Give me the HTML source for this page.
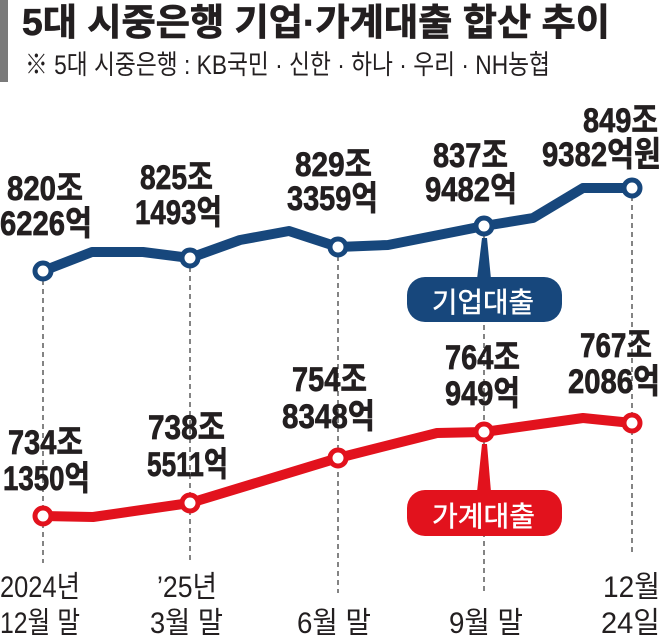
<!DOCTYPE html>
<html>
<head>
<meta charset="utf-8">
<style>
html,body{margin:0;padding:0;background:#fff;}
svg{display:block;}
.t{font-family:"Liberation Sans","Noto Sans CJK KR",sans-serif;}
.b{font-weight:bold;fill:#231f20;stroke:#231f20;stroke-width:0.7;}
.r{font-weight:normal;fill:#231f20;}
</style>
</head>
<body>
<svg width="661" height="640" viewBox="0 0 661 640" xmlns="http://www.w3.org/2000/svg">
  <rect x="0" y="0" width="661" height="640" fill="#fff"/>
  <!-- header bar -->
  <rect x="0" y="0" width="8" height="82" fill="#7a7a7a"/>
  <text class="t b" x="22" y="35" font-size="37" textLength="588" lengthAdjust="spacingAndGlyphs">5대 시중은행 기업·가계대출 합산 추이</text>
  <text class="t r" x="25" y="74" font-size="27" textLength="525" lengthAdjust="spacingAndGlyphs">※ 5대 시중은행 : KB국민 · 신한 · 하나 · 우리 · NH농협</text>

  <!-- dashed guide lines -->
  <g stroke="#333" stroke-width="1.2" stroke-dasharray="5,4" fill="none">
    <line x1="43" y1="271" x2="43" y2="563"/>
    <line x1="190" y1="258" x2="190" y2="563"/>
    <line x1="338" y1="247" x2="338" y2="593"/>
    <line x1="484" y1="226" x2="484" y2="593"/>
    <line x1="632" y1="187" x2="632" y2="554"/>
  </g>

  <!-- data labels blue series -->
  <g class="t b" font-size="34">
    <text x="7" y="200" textLength="76" lengthAdjust="spacingAndGlyphs">820조</text>
    <text x="0" y="235" textLength="92" lengthAdjust="spacingAndGlyphs">6226억</text>
    <text x="140" y="189" textLength="73" lengthAdjust="spacingAndGlyphs">825조</text>
    <text x="135" y="224" textLength="87" lengthAdjust="spacingAndGlyphs">1493억</text>
    <text x="295" y="176" textLength="77" lengthAdjust="spacingAndGlyphs">829조</text>
    <text x="287" y="210" textLength="91" lengthAdjust="spacingAndGlyphs">3359억</text>
    <text x="433" y="167" textLength="75" lengthAdjust="spacingAndGlyphs">837조</text>
    <text x="425" y="201" textLength="92" lengthAdjust="spacingAndGlyphs">9482억</text>
    <text x="583" y="132" textLength="75" lengthAdjust="spacingAndGlyphs">849조</text>
    <text x="542" y="166" textLength="119" lengthAdjust="spacingAndGlyphs">9382억원</text>
  </g>
  <!-- data labels red series -->
  <g class="t b" font-size="34">
    <text x="8" y="454" textLength="75" lengthAdjust="spacingAndGlyphs">734조</text>
    <text x="3" y="490" textLength="87" lengthAdjust="spacingAndGlyphs">1350억</text>
    <text x="148" y="439" textLength="77" lengthAdjust="spacingAndGlyphs">738조</text>
    <text x="147" y="476" textLength="81" lengthAdjust="spacingAndGlyphs">5511억</text>
    <text x="292" y="391" textLength="75" lengthAdjust="spacingAndGlyphs">754조</text>
    <text x="282" y="428" textLength="93" lengthAdjust="spacingAndGlyphs">8348억</text>
    <text x="445" y="369" textLength="75" lengthAdjust="spacingAndGlyphs">764조</text>
    <text x="445" y="405" textLength="75" lengthAdjust="spacingAndGlyphs">949억</text>
    <text x="580" y="357" textLength="72" lengthAdjust="spacingAndGlyphs">767조</text>
    <text x="568" y="393" textLength="92" lengthAdjust="spacingAndGlyphs">2086억</text>
  </g>

  <!-- blue line -->
  <polyline fill="none" stroke="#17477c" stroke-width="10" stroke-linejoin="round" stroke-linecap="round"
    points="43,271 92,252 143,252 190,258 240,240 289,231 338,247 388,245 484,226 533,218 583,188 632,188"/>
  <!-- red line -->
  <polyline fill="none" stroke="#e2121d" stroke-width="10" stroke-linejoin="round" stroke-linecap="round"
    points="43,516 93,517 190,503 338,458 437,433 484,432 583,418 632,423"/>

  <!-- markers -->
  <g fill="#fff" stroke="#17477c" stroke-width="5">
    <circle cx="43" cy="271" r="8"/>
    <circle cx="190" cy="258" r="8"/>
    <circle cx="338" cy="247" r="8"/>
    <circle cx="484" cy="226" r="8"/>
    <circle cx="632" cy="188" r="8"/>
  </g>
  <g fill="#fff" stroke="#e2121d" stroke-width="5">
    <circle cx="43" cy="516" r="8"/>
    <circle cx="190" cy="503" r="8"/>
    <circle cx="338" cy="458" r="8"/>
    <circle cx="484" cy="432" r="8"/>
    <circle cx="632" cy="423" r="8"/>
  </g>

  <!-- legend boxes -->
  <polygon points="482,238 487,238 491,279 477,279" fill="#17477c"/>
  <rect x="407" y="277" width="155" height="45" rx="18" ry="18" fill="#17477c"/>
  <text class="t" x="432" y="312" font-size="28" fill="#fff" stroke="#fff" stroke-width="0.5" textLength="102" lengthAdjust="spacingAndGlyphs">기업대출</text>

  <polygon points="482,444 487,444 491,492 477,492" fill="#e2121d"/>
  <rect x="407" y="490" width="155" height="46" rx="18" ry="18" fill="#e2121d"/>
  <text class="t" x="432" y="526" font-size="28" fill="#fff" stroke="#fff" stroke-width="0.5" textLength="103" lengthAdjust="spacingAndGlyphs">가계대출</text>

  <!-- x-axis labels -->
  <g class="t r" font-size="30">
    <text x="0" y="597" textLength="80" lengthAdjust="spacingAndGlyphs">2024년</text>
    <text x="0" y="633" textLength="80" lengthAdjust="spacingAndGlyphs">12월 말</text>
    <text x="157" y="597" textLength="60" lengthAdjust="spacingAndGlyphs">’25년</text>
    <text x="150" y="633" textLength="73" lengthAdjust="spacingAndGlyphs">3월 말</text>
    <text x="297" y="633" textLength="74" lengthAdjust="spacingAndGlyphs">6월 말</text>
    <text x="449" y="633" textLength="74" lengthAdjust="spacingAndGlyphs">9월 말</text>
    <text x="603" y="597" textLength="57" lengthAdjust="spacingAndGlyphs">12월</text>
    <text x="601" y="633" textLength="59" lengthAdjust="spacingAndGlyphs">24일</text>
  </g>
</svg>
</body>
</html>
